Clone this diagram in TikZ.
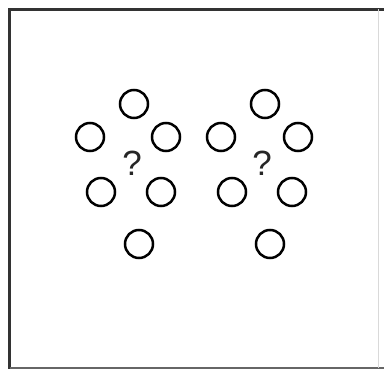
\documentclass[tikz,border=0pt]{standalone}
\usepackage{fontspec}
\setmainfont{Liberation Sans}
\begin{document}
\begin{tikzpicture}[x=1pt,y=-1pt,
  dot/.style={circle,draw=black,line width=2.5pt,minimum size=28pt,inner sep=0pt},
  qmark/.style={font=\fontsize{35}{35}\selectfont,text=black!85,inner sep=0pt}]
\useasboundingbox (0,0) rectangle (384,371);
\fill[white] (0,0) rectangle (384,371);
% frame
\draw[line width=3pt,black!80] (9.5,369) -- (9.5,9.5) -- (384,9.5);
\draw[line width=2pt,black!60] (9.5,368.5) -- (384,368.5);
\draw[line width=0.6pt,black!15] (378,9.5) -- (378,368.5);
% left group
\node[dot] (la) at (134,104) {};
\node[dot] (lb) at (90,137) {};
\node[dot] (lc) at (166,137) {};
\node[dot] (ld) at (101,192) {};
\node[dot] (le) at (161,192) {};
\node[dot] (lf) at (139,244) {};
\node[qmark] (lq) at (132,163) {?};
% right group
\node[dot] (ra) at (265,104) {};
\node[dot] (rb) at (221,137) {};
\node[dot] (rc) at (298,137) {};
\node[dot] (rd) at (232,192) {};
\node[dot] (re) at (292,192) {};
\node[dot] (rf) at (270,244) {};
\node[qmark] (rq) at (262,163) {?};
\end{tikzpicture}
\end{document}
